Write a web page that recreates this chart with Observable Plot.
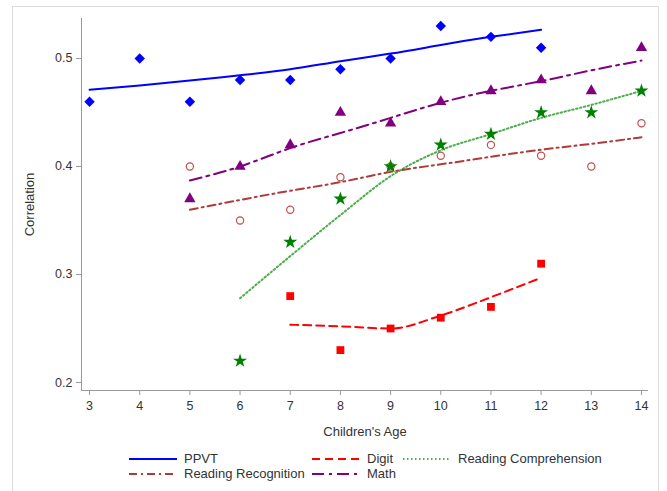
<!DOCTYPE html>
<html>
<head>
<meta charset="utf-8">
<script src="https://cdn.jsdelivr.net/npm/d3@7"></script>
<script src="https://cdn.jsdelivr.net/npm/@observablehq/plot@0.6"></script>
<style>
  html, body { margin: 0; padding: 0; background: #fff; }
  body { width: 667px; height: 491px; position: relative; overflow: hidden; font-family: "Liberation Sans", Arial, sans-serif; }
  #frame { position: absolute; left: 12px; top: 6px; width: 647px; height: 500px; border: 1px solid #dcdcdc; box-sizing: border-box; }
  #chart { position: absolute; left: 0; top: 0; }
  .leg { position: absolute; font-size: 13px; color: #333; white-space: nowrap; line-height: 14px; }
  .leg svg { position: absolute; }
</style>
</head>
<body>
<div id="frame"></div>
<div id="chart"></div>
<div id="legend"></div>
<script>
// ---- data ----
const xTicks = [3, 4, 5, 6, 7, 8, 9, 10, 11, 12, 13, 14];
const yTicks = [0.2, 0.3, 0.4, 0.5];

// observed correlations
const ppvtAges  = [3, 4, 5, 6, 7, 8, 9, 10, 11, 12];
const ppvtObs   = [0.46, 0.50, 0.46, 0.48, 0.48, 0.49, 0.50, 0.53, 0.52, 0.51];
const digitAges = [7, 8, 9, 10, 11, 12];
const digitObs  = [0.28, 0.23, 0.25, 0.26, 0.27, 0.31];
const rcAges    = [6, 7, 8, 9, 10, 11, 12, 13, 14];
const rcObs     = [0.22, 0.33, 0.37, 0.40, 0.42, 0.43, 0.45, 0.45, 0.47];
const rrAges    = [5, 6, 7, 8, 9, 10, 11, 12, 13, 14];
const rrObs     = [0.40, 0.35, 0.36, 0.39, 0.40, 0.41, 0.42, 0.41, 0.40, 0.44];
const mathAges  = [5, 6, 7, 8, 9, 10, 11, 12, 13, 14];
const mathObs   = [0.37, 0.40, 0.42, 0.45, 0.44, 0.46, 0.47, 0.48, 0.47, 0.51];

// fitted curves
const ppvtFit  = [0.471, 0.475, 0.4795, 0.4845, 0.490, 0.4975, 0.5045, 0.5125, 0.520, 0.5265];
const digitFit = [0.2535, 0.252, 0.250, 0.262, 0.279, 0.297];
const rcFit    = [0.278, 0.317, 0.355, 0.391, 0.415, 0.430, 0.445, 0.457, 0.470];
const rrFit    = [0.360, 0.369, 0.3775, 0.3855, 0.395, 0.402, 0.409, 0.4155, 0.421, 0.427];
const mathFit  = [0.387, 0.400, 0.417, 0.431, 0.445, 0.459, 0.470, 0.479, 0.489, 0.498];

const seriesNames = ["PPVT", "Digit", "Reading Comprehension", "Reading Recognition", "Math"];

// ---- build tables ----
const rows = (name, xs, ys) => xs.map((x, i) => ({series: name, age: x, r: ys[i]}));
const obs = {
  PPVT: rows("PPVT", ppvtAges, ppvtObs),
  Digit: rows("Digit", digitAges, digitObs),
  RC: rows("Reading Comprehension", rcAges, rcObs),
  RR: rows("Reading Recognition", rrAges, rrObs),
  Math: rows("Math", mathAges, mathObs)
};
const fit = {
  PPVT: rows("PPVT", ppvtAges, ppvtFit),
  Digit: rows("Digit", digitAges, digitFit),
  RC: rows("Reading Comprehension", rcAges, rcFit),
  RR: rows("Reading Recognition", rrAges, rrFit),
  Math: rows("Math", mathAges, mathFit)
};

const C = {
  ppvt: "#0000ff", digit: "#ff0000", rcLine: "#4cae4c", rcMark: "#008000",
  rrLine: "#b03a3a", rrMark: "#c0504d", math: "#800080"
};
const dash = {
  digit: "8,5", rc: "1.5,2.5", rr: "8,4,2,4", math: "12,5,3,5"
};

const xDomain = [2.84, 14.14];
const yDomain = [0.1926, 0.537];

const chart = Plot.plot({
  width: 667,
  height: 445,
  marginLeft: 81,
  marginRight: 19,
  marginTop: 18,
  marginBottom: 55,
  style: {fontFamily: "'Liberation Sans', Arial, sans-serif", fontSize: "12.5px", color: "#333", background: "transparent"},
  x: {domain: xDomain, label: null},
  y: {domain: yDomain, label: null},
  marks: [
    Plot.ruleX([xDomain[0]], {stroke: "#9a9a9a"}),
    Plot.ruleY([yDomain[0]], {stroke: "#9a9a9a"}),
    Plot.axisX({ticks: xTicks, tickSize: 5, tickPadding: 6, stroke: "#9a9a9a", fill: "#333", fontSize: 12.5, label: null}),
    Plot.axisX({ticks: [], label: "Children's Age", labelAnchor: "center", labelOffset: 45, labelArrow: false, fontSize: 13, fill: "#333"}),
    Plot.axisY({ticks: yTicks, tickFormat: d3.format(".1f"), tickSize: 5, tickPadding: 4, stroke: "#9a9a9a", fill: "#333", fontSize: 12.5, label: null}),
    Plot.axisY({ticks: [], label: "Correlation", labelAnchor: "center", labelOffset: 57, labelArrow: false, fontSize: 13, fill: "#333"}),
    // fitted curves
    Plot.line(fit.PPVT, {x: "age", y: "r", stroke: C.ppvt, strokeWidth: 2, curve: "natural"}),
    Plot.line(fit.Digit, {x: "age", y: "r", stroke: C.digit, strokeWidth: 2, strokeDasharray: dash.digit, curve: "monotone-x"}),
    Plot.line(fit.RC, {x: "age", y: "r", stroke: C.rcLine, strokeWidth: 2, strokeDasharray: dash.rc, curve: "monotone-x"}),
    Plot.line(fit.RR, {x: "age", y: "r", stroke: C.rrLine, strokeWidth: 2, strokeDasharray: dash.rr, curve: "natural"}),
    Plot.line(fit.Math, {x: "age", y: "r", stroke: C.math, strokeWidth: 2, strokeDasharray: dash.math, curve: "natural"}),
    // observed markers
    Plot.dot(obs.RR, {x: "age", y: "r", symbol: "circle", r: 3.6, stroke: C.rrMark, strokeWidth: 1.2, fill: "none"}),
    Plot.dot(obs.PPVT, {x: "age", y: "r", symbol: "diamond2", r: 4.7, fill: C.ppvt, stroke: "none"}),
    Plot.dot(obs.Digit, {x: "age", y: "r", symbol: "square", r: 4.4, fill: C.digit, stroke: "none"}),
    Plot.dot(obs.Math, {x: "age", y: "r", symbol: "triangle", r: 4.2, fill: C.math, stroke: "none"}),
    Plot.dot(obs.RC, {x: "age", y: "r", symbol: "star", r: 4.4, fill: C.rcMark, stroke: "none"})
  ]
});
document.getElementById("chart").appendChild(chart);

// ---- legend (HTML below the SVG) ----
const legendItems = [
  {name: seriesNames[0], color: C.ppvt, dash: null, x: 129, y: 459},
  {name: seriesNames[1], color: C.digit, dash: dash.digit, x: 312, y: 459},
  {name: seriesNames[2], color: C.rcLine, dash: dash.rc, x: 403, y: 459},
  {name: seriesNames[3], color: C.rrLine, dash: dash.rr, x: 129, y: 474},
  {name: seriesNames[4], color: C.math, dash: dash.math, x: 312, y: 474}
];
const legend = document.getElementById("legend");
for (const it of legendItems) {
  const el = document.createElement("div");
  el.className = "leg";
  el.style.left = it.x + "px";
  el.style.top = (it.y - 7) + "px";
  el.innerHTML = `<svg width="48" height="14" style="left:0;top:0"><line x1="0" x2="48" y1="7" y2="7" stroke="${it.color}" stroke-width="2" ${it.dash ? `stroke-dasharray="${it.dash}"` : ""}/></svg><span style="position:absolute;left:55px;top:0">${it.name}</span>`;
  legend.appendChild(el);
}
</script>
</body>
</html>
